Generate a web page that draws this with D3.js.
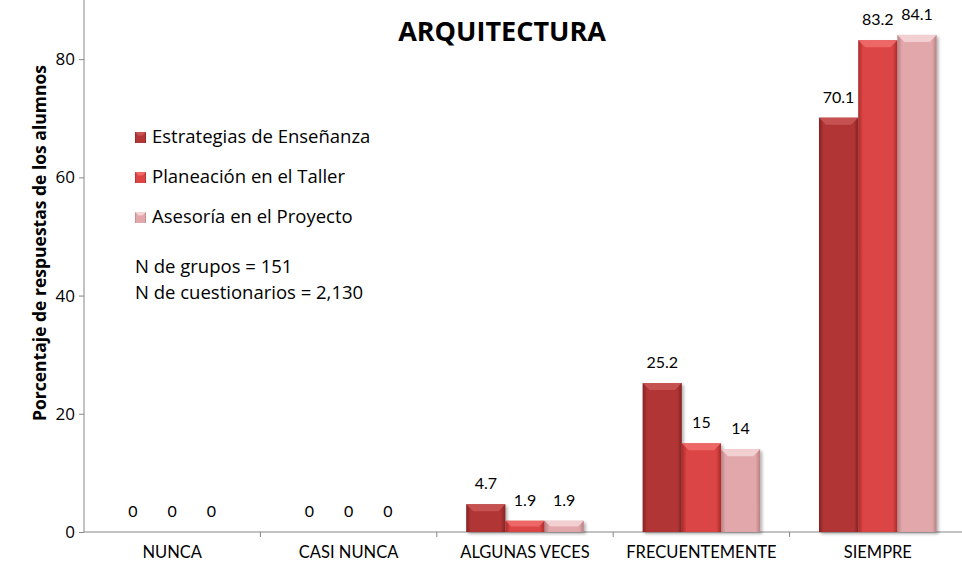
<!DOCTYPE html>
<html>
<head>
<meta charset="utf-8">
<script src="https://d3js.org/d3.v7.min.js"></script>
<style>
  body { margin: 0; background: #fff; }
  text { font-family: "Open Sans", "Liberation Sans", sans-serif; }
</style>
</head>
<body>
<svg width="962" height="566"></svg>
<script>

// chart data
var categories = ['NUNCA', 'CASI NUNCA', 'ALGUNAS VECES', 'FRECUENTEMENTE', 'SIEMPRE'];
var seriesNames = ['Estrategias de Enseñanza', 'Planeación en el Taller', 'Asesoría en el Proyecto'];
var estrategias = [0, 0, 4.7, 25.2, 70.1];
var planeacion = [0, 0, 1.9, 15, 83.2];
var asesoria = [0, 0, 1.9, 14, 84.1];
var yTicks = [0, 20, 40, 60, 80];
var notes = ['N de grupos = 151', 'N de cuestionarios = 2,130'];

var seriesValues = [estrategias, planeacion, asesoria];
var colors = [
  {mid: '#b23636', edge: '#862222', top: '#c85454'},
  {mid: '#dc4444', edge: '#a92a2a', top: '#ee6a6a'},
  {mid: '#e2a7aa', edge: '#b88184', top: '#f4d4d5'}
];

var svg = d3.select('svg');
var defs = svg.append('defs');

// gradients for the bars
colors.forEach(function(c, i) {
  var g = defs.append('linearGradient')
    .attr('id', 'grad' + i)
    .attr('x1', 0).attr('x2', 1).attr('y1', 0).attr('y2', 0);
  g.append('stop').attr('offset', '0%').attr('stop-color', c.edge);
  g.append('stop').attr('offset', '12%').attr('stop-color', c.mid);
  g.append('stop').attr('offset', '88%').attr('stop-color', c.mid);
  g.append('stop').attr('offset', '100%').attr('stop-color', c.edge);
});

var shadow = defs.append('filter').attr('id', 'shadow')
  .attr('x', '-20%').attr('y', '-20%').attr('width', '150%').attr('height', '150%');
shadow.append('feDropShadow')
  .attr('dx', 2).attr('dy', 2).attr('stdDeviation', 1.5)
  .attr('flood-color', '#000').attr('flood-opacity', 0.3);

var x = d3.scaleBand().domain(categories).range([84, 966]);
var x1 = d3.scaleBand().domain([0, 1, 2]).range([0, x.bandwidth()]).paddingOuter(0.75).paddingInner(0);
var y = d3.scaleLinear().domain([0, 90]).range([532, 0]);

// y axis
var yAxis = svg.append('g')
  .attr('transform', 'translate(84,0)')
  .call(d3.axisLeft(y).tickValues(yTicks).tickSize(5).tickSizeOuter(0));
yAxis.select('.domain').attr('stroke', '#868686').attr('d', 'M0,0V532');
yAxis.selectAll('.tick line').attr('stroke', '#868686');
yAxis.selectAll('.tick text')
  .attr('x', -9)
  .style('font-size', '17px')
  .attr('fill', '#000');

// x axis
var xAxis = svg.append('g')
  .attr('transform', 'translate(0,532)')
  .call(d3.axisBottom(x).tickSize(0).tickSizeOuter(0));
xAxis.select('.domain').attr('stroke', '#868686').attr('d', 'M84,0H962');
xAxis.selectAll('.tick text')
  .attr('dy', 0)
  .attr('y', 26)
  .style('font-size', '16.5px')
  .style('font-family', 'Lato, "Open Sans", sans-serif')
  .attr('fill', '#000');

// category separators
svg.append('g').selectAll('line')
  .data(categories.slice(1))
  .enter().append('line')
  .attr('x1', function(d) { return x(d); })
  .attr('x2', function(d) { return x(d); })
  .attr('y1', 532).attr('y2', 537)
  .attr('stroke', '#868686');

// bars
var bars = [];
categories.forEach(function(cat, ci) {
  seriesValues.forEach(function(vals, si) {
    bars.push({cat: cat, s: si, v: vals[ci]});
  });
});

var barG = svg.append('g').selectAll('g')
  .data(bars.filter(function(d) { return d.v > 0; }))
  .enter().append('g');

barG.append('rect')
  .attr('x', function(d) { return x(d.cat) + x1(d.s); })
  .attr('y', function(d) { return y(d.v); })
  .attr('width', x1.bandwidth())
  .attr('height', function(d) { return y(0) - y(d.v); })
  .attr('fill', function(d) { return 'url(#grad' + d.s + ')'; })
  .attr('filter', 'url(#shadow)');

// bevelled top
barG.append('path')
  .attr('d', function(d) {
    var bx = x(d.cat) + x1(d.s), by = y(d.v), w = x1.bandwidth();
    var h = Math.min(7, (y(0) - y(d.v)) / 2);
    return 'M' + bx + ',' + by + 'H' + (bx + w) + 'L' + (bx + w - h) + ',' + (by + h) +
      'H' + (bx + h) + 'Z';
  })
  .attr('fill', function(d) { return colors[d.s].top; })
  .attr('opacity', 0.9);

// value labels
svg.append('g').selectAll('text')
  .data(bars)
  .enter().append('text')
  .attr('x', function(d) { return x(d.cat) + x1(d.s) + x1.bandwidth() / 2; })
  .attr('y', function(d) { return y(d.v) - 15; })
  .attr('text-anchor', 'middle')
  .style('font-size', '16px')
  .style('font-family', 'Lato, "Open Sans", sans-serif')
  .text(function(d) { return d.v; });

// title
svg.append('text')
  .attr('x', 502).attr('y', 41)
  .attr('text-anchor', 'middle')
  .style('font-size', '27px')
  .style('font-weight', 'bold')
  .text('ARQUITECTURA');

// y axis title
svg.append('text')
  .attr('transform', 'translate(46,243) rotate(-90)')
  .attr('text-anchor', 'middle')
  .style('font-size', '17.5px')
  .style('font-weight', 'bold')
  .text('Porcentaje de respuestas de los alumnos');

// legend
var leg = svg.append('g').selectAll('g')
  .data(seriesNames)
  .enter().append('g')
  .attr('transform', function(d, i) { return 'translate(135,' + (137 + i * 40) + ')'; });

leg.append('rect')
  .attr('x', 0).attr('y', -5)
  .attr('width', 11).attr('height', 11)
  .attr('fill', function(d, i) { return 'url(#grad' + i + ')'; });
leg.append('path')
  .attr('d', 'M0,-5H11L7.5,-1.5H3.5Z')
  .attr('fill', function(d, i) { return colors[i].top; });
leg.append('text')
  .attr('x', 17).attr('y', 6)
  .style('font-size', '18.5px')
  .text(function(d) { return d; });

svg.append('g').selectAll('text')
  .data(notes)
  .enter().append('text')
  .attr('x', 135)
  .attr('y', function(d, i) { return 273 + i * 26; })
  .style('font-size', '18.5px')
  .text(function(d) { return d; });

</script>
</body>
</html>
